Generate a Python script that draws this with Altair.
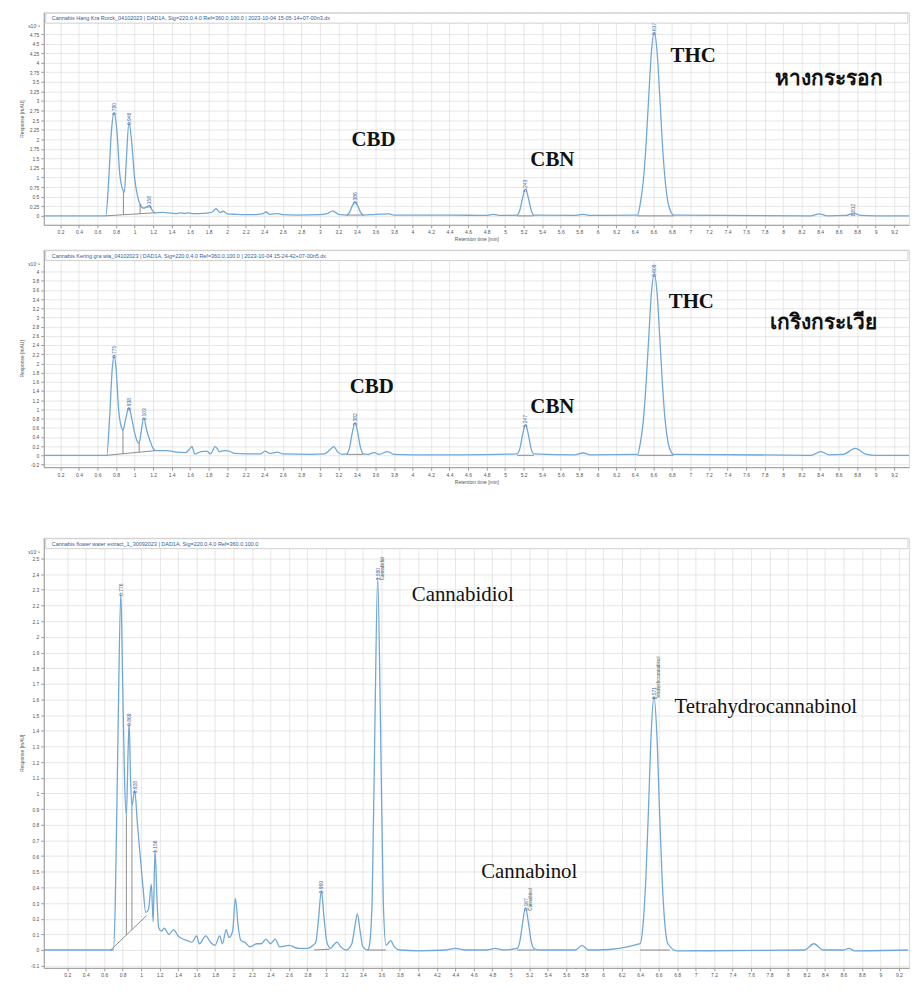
import altair as alt
import pandas as pd

# ---------------- Panel 1 : หางกระรอก ----------------
p1_time = [0.02, 0.60, 0.69, 0.72, 0.75, 0.78, 0.81, 0.84, 0.87, 0.89, 0.91, 0.94, 0.97, 1.00, 1.03, 1.06,
           1.10, 1.14, 1.16, 1.19, 1.22, 1.30, 1.40, 1.46, 1.50, 1.54, 1.58, 1.62, 1.70, 1.78, 1.84, 1.88,
           1.92, 1.96, 2.00, 2.10, 2.30, 2.38, 2.42, 2.46, 2.55, 2.60, 2.75, 3.00, 3.08, 3.14, 3.20,
           3.29, 3.32, 3.35, 3.38, 3.41, 3.44, 3.47, 3.60, 3.75, 3.80, 4.40, 4.80, 4.87, 4.95,
           5.13, 5.16, 5.19, 5.22, 5.25, 5.28, 5.31, 5.75, 5.84, 5.92,
           6.43, 6.46, 6.49, 6.52, 6.55, 6.58, 6.61, 6.64, 6.67, 6.70, 6.73, 6.76, 6.79, 6.82,
           8.30, 8.39, 8.48, 8.68, 8.76, 8.84, 9.00, 9.40]
p1_resp = [0, 0, 0, 0.9, 2.2, 2.7, 2.2, 1.1, 0.7, 0.62, 1.4, 2.45, 1.9, 1.0, 0.55, 0.3,
           0.2, 0.25, 0.27, 0.15, 0.08, 0.09, 0.07, 0.06, 0.08, 0.06, 0.08, 0.06, 0.06, 0.07, 0.1, 0.19,
           0.09, 0.12, 0.05, 0.04, 0.03, 0.05, 0.1, 0.04, 0.06, 0.03, 0.02, 0.03, 0.06, 0.13, 0.04,
           0.02, 0.09, 0.26, 0.37, 0.26, 0.09, 0.02, 0.04, 0.05, 0.02, 0.02, 0.01, 0.04, 0.01,
           0.02, 0.16, 0.48, 0.7, 0.48, 0.16, 0.02, 0.01, 0.04, 0.01,
           0.02, 0.33, 0.87, 1.8, 3.1, 4.3, 4.8, 4.3, 3.1, 1.8, 0.87, 0.33, 0.1, 0.02,
           0, 0.05, 0, 0.01, 0.07, 0.01, 0, 0]
p1_base_t1 = [0.69, 0.88, 1.06, 3.29, 5.13, 6.43]
p1_base_v1 = [0.0, 0.62, 0.30, 0.02, 0.0, 0.0]
p1_base_t2 = [1.22, 0.88, 1.06, 3.47, 5.31, 6.82]
p1_base_v2 = [0.08, 0.03, 0.05, 0.02, 0.0, 0.0]
p1_peak_time = [0.78, 0.94, 1.16, 3.38, 5.22, 6.61, 8.76]
p1_peak_resp = [2.7, 2.45, 0.27, 0.37, 0.7, 4.8, 0.07]
p1_peak_text = ["0.780", "0.946", "1.158", "3.386", "5.243", "6.617", "8.812"]
p1_note_text = ["CBD", "CBN", "THC", "หางกระรอก"]
p1_note_time = [3.58, 5.51, 7.03, 8.50]
p1_note_resp = [1.97, 1.45, 4.18, 3.58]
p1_title = "Cannabis Hang Kra Rorck_04102023 | DAD1A, Sig=220.0,4.0 Ref=360.0,100.0 | 2023-10-04 15-05-14+07-00n3.dx"

# ---------------- Panel 2 : เกริงกระเวีย ----------------
p2_time = [0.02, 0.60, 0.70, 0.73, 0.76, 0.78, 0.80, 0.83, 0.86, 0.875, 0.90, 0.94, 0.97, 1.00, 1.03, 1.05,
           1.07, 1.10, 1.13, 1.17, 1.20, 1.23, 1.35, 1.45, 1.55, 1.60, 1.62, 1.65, 1.72, 1.78, 1.82, 1.87,
           1.92, 1.97, 2.02, 2.08, 2.20, 2.36, 2.41, 2.46, 2.54, 2.60, 2.90, 3.05, 3.11, 3.15, 3.19, 3.24,
           3.29, 3.32, 3.35, 3.38, 3.41, 3.44, 3.47, 3.52, 3.59, 3.64, 3.73, 3.80, 4.00, 4.50,
           5.13, 5.16, 5.19, 5.22, 5.25, 5.28, 5.31, 5.75, 5.84, 5.92,
           6.43, 6.46, 6.49, 6.52, 6.55, 6.58, 6.61, 6.64, 6.67, 6.70, 6.73, 6.76, 6.79, 6.82,
           8.30, 8.41, 8.50, 8.65, 8.78, 8.90, 9.00, 9.40]
p2_resp = [0, 0, 0, 0.8, 1.9, 2.18, 1.9, 0.95, 0.6, 0.54, 0.75, 1.04, 0.8, 0.5, 0.3, 0.26,
           0.5, 0.82, 0.55, 0.3, 0.15, 0.1, 0.1, 0.07, 0.06, 0.15, 0.19, 0.03, 0.08, 0.09, 0.03, 0.19,
           0.08, 0.1, 0.09, 0.04, 0.03, 0.03, 0.09, 0.04, 0.07, 0.03, 0.02, 0.03, 0.12, 0.19, 0.08, 0.02,
           0.03, 0.16, 0.49, 0.71, 0.49, 0.16, 0.03, 0.02, 0.06, 0.02, 0.08, 0.02, 0.01, 0.01,
           0.03, 0.15, 0.46, 0.67, 0.46, 0.15, 0.03, 0.01, 0.05, 0.01,
           0.02, 0.27, 0.71, 1.5, 2.55, 3.55, 3.95, 3.55, 2.55, 1.5, 0.71, 0.27, 0.08, 0.02,
           0, 0.08, 0.01, 0.02, 0.15, 0.02, 0, 0]
p2_base_t1 = [0.70, 0.875, 1.05, 3.29, 5.13, 6.43]
p2_base_v1 = [0.0, 0.54, 0.26, 0.02, 0.0, 0.0]
p2_base_t2 = [1.22, 0.875, 1.05, 3.47, 5.31, 6.82]
p2_base_v2 = [0.10, 0.03, 0.07, 0.02, 0.0, 0.0]
p2_peak_time = [0.78, 0.94, 1.10, 3.38, 5.22, 6.61]
p2_peak_resp = [2.18, 1.04, 0.82, 0.71, 0.67, 3.95]
p2_peak_text = ["0.775", "0.938", "1.103", "3.382", "5.247", "6.609"]
p2_note_text = ["CBD", "CBN", "THC", "เกริงกระเวีย"]
p2_note_time = [3.56, 5.51, 7.01, 8.44]
p2_note_resp = [1.49, 1.06, 3.33, 2.88]
p2_title = "Cannabis Kering gra wia_04102023 | DAD1A, Sig=220.0,4.0 Ref=360.0,100.0 | 2023-10-04 15-24-42+07-00n5.dx"

# ---------------- Panel 3 : water extract ----------------
p3_time = [-0.05, 0.70, 0.72, 0.75, 0.78, 0.80, 0.82, 0.84, 0.86, 0.87, 0.885, 0.90, 0.93, 0.96, 0.99, 1.02,
           1.05, 1.08, 1.11, 1.13, 1.15, 1.17, 1.19, 1.22, 1.25, 1.30, 1.35, 1.40, 1.45, 1.50, 1.55, 1.60,
           1.63, 1.70, 1.75, 1.80, 1.85, 1.88, 1.92, 1.95, 1.99, 2.02, 2.05, 2.08, 2.12, 2.18, 2.25, 2.30,
           2.35, 2.40, 2.45, 2.50, 2.60, 2.70, 2.80, 2.86, 2.89, 2.92, 2.95, 2.98, 3.01, 3.05, 3.08, 3.12,
           3.16, 3.22, 3.28, 3.31, 3.34, 3.37, 3.40, 3.45, 3.47, 3.50, 3.53, 3.56, 3.59, 3.62, 3.65,
           3.70, 3.74, 3.80, 4.00, 4.30, 4.40, 4.50, 4.75, 4.83, 4.92,
           5.07, 5.10, 5.13, 5.16, 5.19, 5.22, 5.25, 5.30, 5.70, 5.77, 5.84, 5.95,
           6.40, 6.43, 6.46, 6.49, 6.52, 6.55, 6.58, 6.61, 6.64, 6.67, 6.70,
           6.80, 8.18, 8.28, 8.38, 8.60, 8.66, 8.72, 9.30]
p3_resp = [0, 0, 0.3, 1.4, 2.28, 1.7, 1.1, 0.86, 1.3, 1.45, 1.1, 0.92, 1.02, 0.8, 0.6, 0.4,
           0.24, 0.26, 0.42, 0.18, 0.64, 0.35, 0.14, 0.12, 0.14, 0.10, 0.13, 0.09, 0.07, 0.06, 0.05, 0.09,
           0.04, 0.09, 0.05, 0.03, 0.09, 0.04, 0.13, 0.08, 0.12, 0.33, 0.15, 0.06, 0.05, 0.02, 0.04, 0.04,
           0.07, 0.04, 0.07, 0.02, 0.03, 0.01, 0.01, 0.03, 0.05, 0.2, 0.38, 0.2, 0.05, 0.01, 0.03, 0.05,
           0.02, 0.0, 0.04, 0.14, 0.23, 0.12, 0.02, 0.0, 0.03, 0.32, 1.45, 2.38, 1.45, 0.32, 0.03,
           0.06, 0.02, 0.0, -0.005, 0.0, 0.01, 0.0, 0.0, 0.01, 0.0,
           0.01, 0.06, 0.18, 0.27, 0.18, 0.06, 0.01, 0.0, 0.0, 0.03, 0.0, 0.0,
           0.04, 0.15, 0.43, 0.89, 1.39, 1.62, 1.39, 0.89, 0.43, 0.15, 0.04,
           -0.005, 0.0, 0.04, 0.0, 0.0, 0.01, -0.005, 0]
p3_base_t1 = [0.67, 0.84, 0.90, 2.87, 3.46, 5.07, 6.40]
p3_base_v1 = [0.0, 0.86, 0.92, 0.0, 0.0, 0.0, 0.0]
p3_base_t2 = [1.06, 0.84, 0.90, 3.04, 3.65, 5.26, 6.72]
p3_base_v2 = [0.22, 0.10, 0.13, 0.005, 0.0, 0.0, 0.0]
p3_peak_time = [0.78, 0.87, 0.93, 1.15, 2.95, 3.56, 5.16, 6.55]
p3_peak_resp = [2.28, 1.45, 1.02, 0.64, 0.38, 2.38, 0.27, 1.62]
p3_peak_text = ["0.776", "0.869", "0.928", "1.156", "2.969", "3.580", "5.167", "6.571"]
p3_name_time = [3.56, 5.16, 6.55]
p3_name_resp = [2.38, 0.27, 1.62]
p3_name_text = ["Cannabidiol", "Cannabinol", "Tetrahydrocannabinol"]
p3_note_text = ["Cannabidiol", "Cannabinol", "Tetrahydrocannabinol"]
p3_note_time = [4.48, 5.20, 7.76]
p3_note_resp = [2.27, 0.50, 1.55]
p3_title = "Cannabis flower water extract_1_30092023 | DAD1A, Sig=220.0,4.0 Ref=360.0,100.0"

x_ticks = [round(0.2 * k, 1) for k in range(1, 48)]
p1_yticks = [0.25 * k for k in range(0, 20)]
p2_yticks = [round(0.2 * k, 1) for k in range(-1, 21)]
p3_yticks = [round(0.1 * k, 1) for k in range(-1, 26)]

W = 871
TRACE = "#6fa8d8"
BASE = "#707070"
GRID = "#dcdcdc"
LBL = "#3d6aa8"


def panel(times, resps, bt1, bv1, bt2, bv2, pk_t, pk_v, pk_s, nt, nt_t, nt_v, title,
          xdom, ydom, yticks, height, xtitle, bold, note_size, names=None):
    xticks = [v for v in x_ticks if xdom[0] <= v <= xdom[1]]
    xaxis = alt.Axis(values=xticks, labelExpr="'' + datum.value", grid=True, gridColor=GRID,
                     gridWidth=0.7, labelFontSize=5, tickSize=3, labelPadding=2,
                     titleFontSize=5, titleFontWeight="normal", titlePadding=2,
                     labelColor="#555", titleColor="#555", domainColor="#999", tickColor="#999",
                     labelOverlap=False, title=xtitle)
    yaxis = alt.Axis(values=yticks, labelExpr="'' + datum.value", grid=True, gridColor=GRID,
                     gridWidth=0.7, labelFontSize=5, tickSize=3, labelPadding=2,
                     titleFontSize=5, titleFontWeight="normal", titlePadding=2,
                     labelColor="#555", titleColor="#555", domainColor="#999", tickColor="#999",
                     minExtent=17, maxExtent=17, labelOverlap=False, title="Response [mAU]")
    X = alt.X("t:Q", scale=alt.Scale(domain=xdom, nice=False, zero=False), axis=xaxis)
    Y = alt.Y("v:Q", scale=alt.Scale(domain=ydom, nice=False, zero=False), axis=yaxis)

    trace = alt.Chart(pd.DataFrame({"t": times, "v": resps})).mark_line(
        color=TRACE, strokeWidth=1.3, interpolate="monotone", clip=True).encode(x=X, y=Y)
    base = alt.Chart(pd.DataFrame({"t": bt1, "v": bv1, "t2": bt2, "v2": bv2})).mark_rule(
        color=BASE, strokeWidth=0.8, clip=True).encode(x=X, y=Y, x2="t2:Q", y2="v2:Q")
    peaks = alt.Chart(pd.DataFrame({"t": pk_t, "v": pk_v, "s": pk_s})).mark_text(
        angle=270, align="left", baseline="middle", fontSize=5, color=LBL, dx=-3).encode(
        x=X, y=Y, text="s:N")
    notes = alt.Chart(pd.DataFrame({"t": nt_t, "v": nt_v, "s": nt})).mark_text(
        align="center", baseline="middle", fontSize=note_size, font="Liberation Serif",
        fontWeight="bold" if bold else "normal", color="#111").encode(x=X, y=Y, text="s:N")
    bar = alt.Chart(pd.DataFrame({"a": [0]})).mark_rect(
        fill="white", stroke="#c4c4c4", strokeWidth=0.8).encode(
        x=alt.value(2), x2=alt.value(W - 1), y=alt.value(1), y2=alt.value(11))
    bar_text = alt.Chart(pd.DataFrame({"a": [0]})).mark_text(
        text=title, align="left", baseline="middle", fontSize=5.5, color="#2f5d9e").encode(
        x=alt.value(8), y=alt.value(6))
    expo = alt.Chart(pd.DataFrame({"a": [0]})).mark_text(
        text="x10⁻¹", align="right", baseline="middle", fontSize=5, color="#555").encode(
        x=alt.value(-4), y=alt.value(14))
    layers = [trace, base, peaks, notes, bar, bar_text, expo]
    if names is not None:
        nm = alt.Chart(pd.DataFrame({"t": names[0], "v": names[1], "s": names[2]})).mark_text(
            angle=270, align="left", baseline="middle", fontSize=4.5, color="#555", dx=-3, dy=5).encode(
            x=X, y=Y, text="s:N")
        layers.append(nm)
    return alt.layer(*layers).properties(width=W, height=height)


p1 = panel(p1_time, p1_resp, p1_base_t1, p1_base_v1, p1_base_t2, p1_base_v2,
           p1_peak_time, p1_peak_resp, p1_peak_text, p1_note_text, p1_note_time, p1_note_resp,
           p1_title, [0.02, 9.36], [-0.234, 5.32], p1_yticks, 214, "Retention time [min]", True, 21)
p2 = panel(p2_time, p2_resp, p2_base_t1, p2_base_v1, p2_base_t2, p2_base_v2,
           p2_peak_time, p2_peak_resp, p2_peak_text, p2_note_text, p2_note_time, p2_note_resp,
           p2_title, [0.02, 9.36], [-0.259, 4.476], p2_yticks, 219, "Retention time [min]", True, 21)
p3 = panel(p3_time, p3_resp, p3_base_t1, p3_base_v1, p3_base_t2, p3_base_v2,
           p3_peak_time, p3_peak_resp, p3_peak_text, p3_note_text, p3_note_time, p3_note_resp,
           p3_title, [-0.054, 9.31], [-0.114, 2.633], p3_yticks, 433, None, False, 21,
           names=(p3_name_time, p3_name_resp, p3_name_text))

chart = alt.vconcat(alt.vconcat(p1, p2, spacing=6), p3, spacing=52).properties(
    padding={"left": 11, "top": 0, "right": 0, "bottom": 0}
).configure_view(stroke="#b0b0b0", strokeWidth=0.8).configure(font="Liberation Sans")

chart.save("out.html", embed_options={"renderer": "svg", "actions": False})
